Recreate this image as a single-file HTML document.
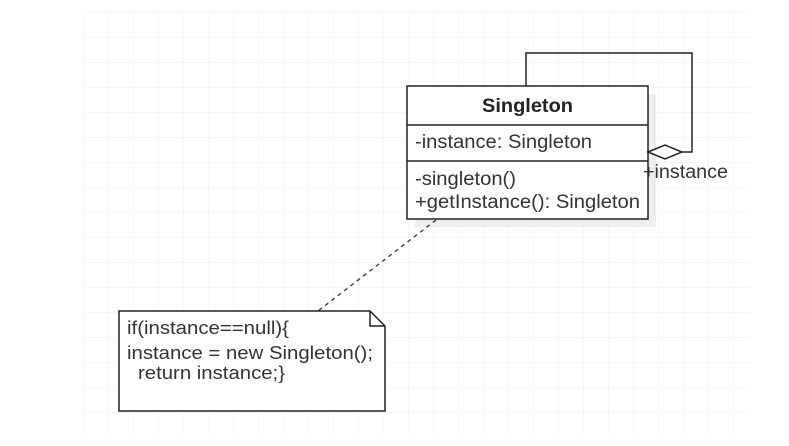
<!DOCTYPE html>
<html><head><style>body{margin:0;background:#fff}svg{display:block}</style></head><body>
<svg width="789" height="446" xmlns="http://www.w3.org/2000/svg" font-family="Liberation Sans, sans-serif">
<defs><pattern id="g" x="83" y="12" width="25" height="25" patternUnits="userSpaceOnUse"><path d="M0 0V25M0 0H25" stroke="#efefef" stroke-width="1.2" fill="none"/></pattern></defs>
<rect x="83" y="12" width="668" height="424" fill="url(#g)"/>
<rect x="415" y="94" width="241" height="133" fill="#eeeeee"/>
<rect x="407" y="86" width="241" height="133" fill="#fff" stroke="#222" stroke-width="1.5"/>
<line x1="407" y1="125" x2="648" y2="125" stroke="#222" stroke-width="1.5"/>
<line x1="407" y1="161" x2="648" y2="161" stroke="#222" stroke-width="1.5"/>
<text x="482" y="112" font-weight="bold" font-size="19" fill="#222" textLength="91" lengthAdjust="spacingAndGlyphs">Singleton</text>
<text x="415" y="148" font-size="19" fill="#333" textLength="177" lengthAdjust="spacingAndGlyphs">-instance: Singleton</text>
<text x="415" y="185" font-size="19" fill="#333" textLength="101" lengthAdjust="spacingAndGlyphs">-singleton()</text>
<text x="415" y="208" font-size="19" fill="#333" textLength="225" lengthAdjust="spacingAndGlyphs">+getInstance(): Singleton</text>
<polyline points="526,86 526,53 692,53 692,152 682,152" fill="none" stroke="#222" stroke-width="1.5"/>
<polygon points="648,152 665,145 682,152 665,159" fill="#fff" stroke="#222" stroke-width="1.5"/>
<text x="643" y="178" font-size="19" fill="#333" textLength="85" lengthAdjust="spacingAndGlyphs">+instance</text>
<line x1="436" y1="220" x2="318" y2="311" stroke="#333" stroke-width="1.3" stroke-dasharray="4,4"/>
<path d="M119 311H370L385 326V411H119Z" fill="#fff" stroke="#222" stroke-width="1.5"/>
<path d="M370 311V326H385" fill="none" stroke="#222" stroke-width="1.5"/>
<text x="127" y="334" font-size="18" fill="#333" textLength="162" lengthAdjust="spacingAndGlyphs">if(instance==null){</text>
<text x="127" y="359" font-size="18" fill="#333" textLength="246" lengthAdjust="spacingAndGlyphs">instance = new Singleton();</text>
<text x="138" y="379" font-size="18" fill="#333" textLength="147" lengthAdjust="spacingAndGlyphs">return instance;}</text>
</svg>
</body></html>
